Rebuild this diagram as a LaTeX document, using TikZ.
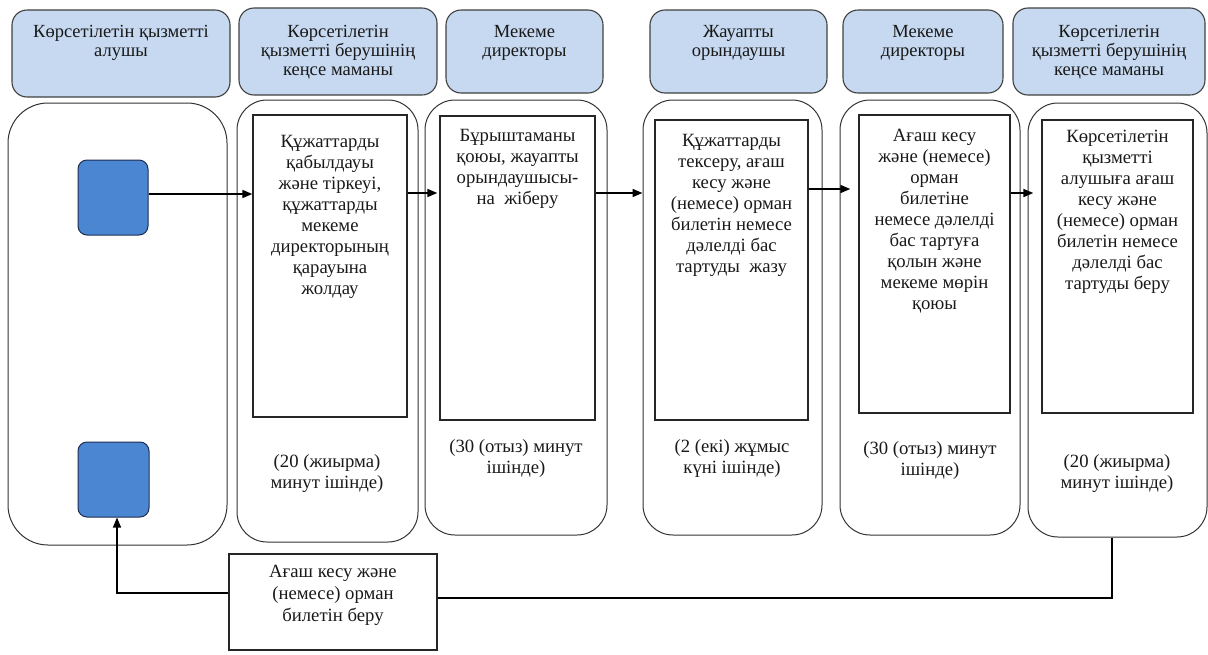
\documentclass[tikz,border=0pt]{standalone}
\usepackage{fontspec}
\setmainfont{LiberationSerif}[Extension=.ttf,UprightFont=*-Regular,BoldFont=*-Bold,ItalicFont=*-Italic,BoldItalicFont=*-BoldItalic]
\usetikzlibrary{arrows.meta}
\definecolor{hdrblue}{RGB}{198,217,240}
\definecolor{hdrline}{RGB}{64,64,64}
\definecolor{sqblue}{RGB}{74,134,210}
\definecolor{sqline}{RGB}{30,45,80}
\definecolor{txt}{RGB}{25,25,25}
\begin{document}
\begin{tikzpicture}[x=1pt,y=-1pt,
  hdr/.style={draw=hdrline,line width=1.1pt,fill=hdrblue,rounded corners=15pt,inner sep=0pt},
  lane/.style={draw=black!80,line width=1pt,rounded corners=30pt,inner sep=0pt},
  inner/.style={draw=black!85,line width=1.3pt,inner sep=0pt},
  sq/.style={draw=sqline,line width=1pt,fill=sqblue,rounded corners=9pt,inner sep=0pt},
  htext/.style={anchor=north,inner sep=0pt,align=center,text=txt,font=\fontsize{18.5}{19}\selectfont},
  btext/.style={anchor=north,inner sep=0pt,align=center,text=txt,font=\fontsize{18.7}{21}\selectfont},
  ttext/.style={anchor=north,inner sep=0pt,align=center,text=txt,font=\fontsize{18.7}{21}\selectfont},
  arr/.style={line width=1.6pt,-{Triangle[length=10pt,width=8pt]}},
  conn/.style={line width=1.1pt}]
\useasboundingbox (0,0) rectangle (1208,654);
% headers
\node[hdr,minimum width=218pt,minimum height=87pt] (H1) at (121,53.5) {};
\node[hdr,minimum width=198pt,minimum height=87pt] (H2) at (338,51.5) {};
\node[hdr,minimum width=157pt,minimum height=83pt] (H3) at (524.5,51.5) {};
\node[hdr,minimum width=177pt,minimum height=83pt] (H4) at (738.5,51.5) {};
\node[hdr,minimum width=160pt,minimum height=83pt] (H5) at (923,51.5) {};
\node[hdr,minimum width=192pt,minimum height=87pt] (H6) at (1109,51.5) {};
\node[htext] (h1t) at (121,25) {Көрсетілетін қызметті\\алушы};
\node[htext] (h2t) at (338,25) {Көрсетілетін\\қызметті берушінің\\кеңсе маманы};
\node[htext] (h3t) at (524.5,25) {Мекеме\\директоры};
\node[htext] (h4t) at (738.5,25) {Жауапты\\орындаушы};
\node[htext] (h5t) at (923,25) {Мекеме\\директоры};
\node[htext] (h6t) at (1109,25) {Көрсетілетін\\қызметті берушінің\\кеңсе маманы};
% lanes
\node[lane,rounded corners=40pt,minimum width=219pt,minimum height=442pt] (L1) at (117.5,324) {};
\node[lane,minimum width=181pt,minimum height=442pt] (L2) at (327.5,321) {};
\node[lane,minimum width=182pt,minimum height=435pt] (L3) at (516,317.5) {};
\node[lane,minimum width=179pt,minimum height=435pt] (L4) at (732.5,317.5) {};
\node[lane,minimum width=180pt,minimum height=435pt] (L5) at (930,317.5) {};
\node[lane,minimum width=179pt,minimum height=434pt] (L6) at (1117.5,320) {};
% inner boxes
\node[inner,minimum width=154pt,minimum height=302pt] (I2) at (330,266) {};
\node[inner,minimum width=155pt,minimum height=304pt] (I3) at (517.5,268) {};
\node[inner,minimum width=153pt,minimum height=300pt] (I4) at (731.5,270) {};
\node[inner,minimum width=151pt,minimum height=298pt] (I5) at (934.5,264) {};
\node[inner,minimum width=151pt,minimum height=293pt] (I6) at (1117.5,266.5) {};
\node[btext] (i2t) at (330,135) {Құжаттарды\\қабылдауы\\және тіркеуі,\\құжаттарды\\мекеме\\директорының\\қарауына\\жолдау};
\node[btext] (i3t) at (517.5,129) {Бұрыштаманы\\қоюы, жауапты\\орындаушысы-\\на\ \ жіберу};
\node[btext] (i4t) at (731.5,134) {Құжаттарды\\тексеру, ағаш\\кесу және\\(немесе) орман\\билетін немесе\\дәлелді бас\\тартуды\ \ жазу};
\node[btext] (i5t) at (934.5,129) {Ағаш кесу\\және (немесе)\\орман\\билетіне\\немесе дәлелді\\бас тартуға\\қолын және\\мекеме мөрін\\қоюы};
\node[btext] (i6t) at (1117.5,130) {Көрсетілетін\\қызметті\\алушыға ағаш\\кесу және\\(немесе) орман\\билетін немесе\\дәлелді бас\\тартуды беру};
% time labels
\node[ttext] (t2) at (327,454) {(20 (жиырма)\\минут ішінде)};
\node[ttext] (t3) at (516,439) {(30 (отыз) минут\\ішінде)};
\node[ttext] (t4) at (732,439) {(2 (екі) жұмыс\\күні ішінде)};
\node[ttext] (t5) at (930,441) {(30 (отыз) минут\\ішінде)};
\node[ttext] (t6) at (1117,454) {(20 (жиырма)\\минут ішінде)};
% squares
\node[sq,minimum width=70pt,minimum height=75pt] (S1) at (113,197.5) {};
\node[sq,minimum width=71pt,minimum height=75pt] (S2) at (113.5,479.5) {};
% bottom box
\node[inner,line width=1.1pt,minimum width=208pt,minimum height=96pt] (B) at (333,602) {};
\node[btext,font=\fontsize{18.7}{22}\selectfont] (bt) at (333,565) {Ағаш кесу және\\(немесе) орман\\билетін беру};
% connectors
\coordinate (r1) at (0,194);
\coordinate (r2) at (0,193);
\coordinate (r4) at (0,189);
\draw[arr] (S1.east |- r1) -- (I2.west |- r1);
\draw[arr] (I2.east |- r2) -- ([xshift=-2pt]I3.west |- r2);
\draw[arr] (I3.east |- r2) -- (L4.west |- r2);
\draw[arr] (I4.east |- r4) -- ([xshift=-8pt]I5.west |- r4);
\draw[arr] (I5.east |- r2) -- ([xshift=-8pt]I6.west |- r2);
\draw[arr,line width=1.3pt] ([yshift=9pt]B.west) -| ([xshift=3.5pt]S2.south);
\draw[conn] ([xshift=-5.5pt]L6.south) |- ([yshift=4pt]B.east);
\end{tikzpicture}
\end{document}
